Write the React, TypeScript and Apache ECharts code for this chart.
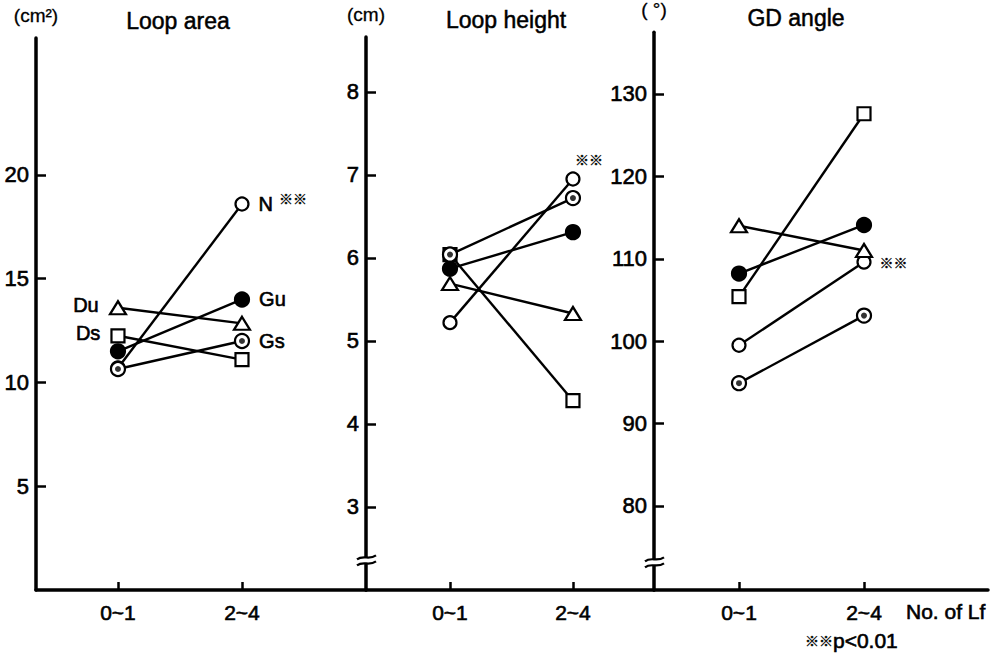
import React, { useEffect, useRef } from 'react';
import * as echarts from 'echarts';

// ---------- data ----------
const CATEGORIES = ['0~1', '2~4'];
const GROUPS = ['N', 'Ds', 'Du', 'Gu', 'Gs'];
const PANEL_TITLES = ['Loop area', 'Loop height', 'GD angle'];
const PANEL_UNITS = ['(cm²)', '(cm)', '( °)'];

const AREA_TICKS = [5, 10, 15, 20];
const HEIGHT_TICKS = [3, 4, 5, 6, 7, 8];
const ANGLE_TICKS = [80, 90, 100, 110, 120, 130];

// Loop area (cm²)
const AREA_N = [10.7, 18.6];
const AREA_GU = [11.5, 14.0];
const AREA_DU = [13.6, 12.85];
const AREA_DS = [12.25, 11.1];
const AREA_GS = [10.65, 12.0];

// Loop height (cm)
const HEIGHT_N = [5.22, 6.95];
const HEIGHT_GU = [5.87, 6.31];
const HEIGHT_DU = [5.69, 5.33];
const HEIGHT_DS = [6.04, 4.28];
const HEIGHT_GS = [6.04, 6.72];

// GD angle (°)
const ANGLE_N = [99.5, 109.6];
const ANGLE_GU = [108.2, 114.1];
const ANGLE_DU = [114.0, 111.0];
const ANGLE_DS = [105.4, 127.6];
const ANGLE_GS = [94.9, 103.1];

const AREA_LEFT_LABELS = ['Du', 'Ds'];
const AREA_RIGHT_LABELS = ['N', 'Gu', 'Gs'];
const SIGNIFICANT_GROUP = 'N';
const SIG_MARK = '※※';
const X_AXIS_NAME = 'No. of Lf';
const P_NOTE = 'p<0.01';

// ---------- layout ----------
const FONT = '"Liberation Sans", Arial, "Noto Sans CJK JP", sans-serif';
const SIG_FONT = '"Noto Sans CJK JP", "DejaVu Sans", sans-serif';
const THICK = { textBorderColor: '#000', textBorderWidth: 0.6 };
const GRID_X = [
  [36, 366],
  [366, 654],
  [654, 988],
];
const GRID_TOP = [38, 37, 28];
const GRID_BOTTOM_PX = 590;
const X_RANGE = [
  [-0.661, 2.0],
  [-0.683, 1.659],
  [-0.68, 1.992],
];
const Y_RANGE = [
  [0, 26.6],
  [2, 8.66],
  [69.8, 137.5],
];
const BREAK_AT: (number | null)[] = [null, 2.38, 73.4];

const PANEL_DATA: Record<string, number[]>[] = [
  { N: AREA_N, Gu: AREA_GU, Du: AREA_DU, Ds: AREA_DS, Gs: AREA_GS },
  { N: HEIGHT_N, Gu: HEIGHT_GU, Du: HEIGHT_DU, Ds: HEIGHT_DS, Gs: HEIGHT_GS },
  { N: ANGLE_N, Gu: ANGLE_GU, Du: ANGLE_DU, Ds: ANGLE_DS, Gs: ANGLE_GS },
];
const PANEL_TICKS = [AREA_TICKS, HEIGHT_TICKS, ANGLE_TICKS];

const MARKER: Record<string, any> = {
  N: { symbol: 'circle', symbolSize: 13, fill: '#fff' },
  Gu: { symbol: 'circle', symbolSize: 14, fill: '#000' },
  Du: { symbol: 'triangle', symbolSize: [16, 13], fill: '#fff' },
  Ds: { symbol: 'rect', symbolSize: 13, fill: '#fff' },
  Gs: { symbol: 'circle', symbolSize: 14, fill: '#fff' },
};

const SIG_STYLE = {
  fontSize: 14,
  fontFamily: SIG_FONT,
  fontWeight: 'bold',
  color: '#000',
  textBorderColor: '#000',
  textBorderWidth: 0.4,
};

function buildOption() {
  const H = 653;
  const grid = GRID_X.map((gx, p) => ({
    left: gx[0],
    width: gx[1] - gx[0],
    top: GRID_TOP[p],
    bottom: H - GRID_BOTTOM_PX,
  }));
  const xAxis = GRID_X.map((_, p) => ({
    type: 'value',
    gridIndex: p,
    min: X_RANGE[p][0],
    max: X_RANGE[p][1],
    splitLine: { show: false },
    axisLine: { show: true, onZero: false, lineStyle: { color: '#000', width: 3.5 } },
    axisTick: {
      show: true,
      inside: true,
      length: 8,
      customValues: [0, 1],
      lineStyle: { color: '#000', width: 2.5 },
    },
    axisLabel: {
      show: true,
      customValues: [0, 1],
      formatter: (v: number) => CATEGORIES[Math.round(v)] ?? '',
      color: '#000',
      fontSize: 21,
      fontFamily: FONT,
      margin: 12,
      ...THICK,
    },
  }));
  const yAxis = GRID_X.map((_, p) => ({
    type: 'value',
    gridIndex: p,
    position: 'left',
    min: Y_RANGE[p][0],
    max: Y_RANGE[p][1],
    name: PANEL_UNITS[p],
    nameLocation: 'end',
    nameGap: 13,
    nameTextStyle: { color: '#000', fontSize: 19, fontFamily: FONT, align: 'center', textBorderColor: '#000', textBorderWidth: 0.3 },
    splitLine: { show: false },
    axisLine: { show: true, onZero: false, lineStyle: { color: '#000', width: 3.5 } },
    axisTick: {
      show: true,
      inside: true,
      length: 10,
      customValues: PANEL_TICKS[p],
      lineStyle: { color: '#000', width: 2.5 },
    },
    axisLabel: {
      show: true,
      customValues: PANEL_TICKS[p],
      color: '#000',
      fontSize: 22,
      fontFamily: FONT,
      margin: 7,
      ...THICK,
    },
  }));

  const series: any[] = [];
  // lines
  PANEL_DATA.forEach((pd, p) => {
    GROUPS.forEach((g) => {
      series.push({
        type: 'line',
        name: `${g}-${p}-line`,
        xAxisIndex: p,
        yAxisIndex: p,
        data: pd[g].map((v, i) => [i, v]),
        symbol: 'none',
        lineStyle: { color: '#000', width: 2.4 },
        z: 2,
        silent: true,
      });
    });
  });
  // markers
  PANEL_DATA.forEach((pd, p) => {
    GROUPS.forEach((g) => {
      const m = MARKER[g];
      series.push({
        type: 'scatter',
        name: `${g}-${p}`,
        xAxisIndex: p,
        yAxisIndex: p,
        symbol: m.symbol,
        symbolSize: m.symbolSize,
        itemStyle: { color: m.fill, borderColor: '#000', borderWidth: 2.2, opacity: 1 },
        z: 3,
        data: pd[g].map((v, i) => {
          const item: any = { value: [i, v] };
          if (p === 0 && i === 0 && AREA_LEFT_LABELS.includes(g)) {
            item.label = {
              show: true,
              position: 'left',
              distance: 10,
              formatter: g,
              color: '#000',
              fontSize: 20,
              fontFamily: FONT,
              offset: [0, -3],
              ...THICK,
            };
          }
          if (p === 0 && i === 1 && AREA_RIGHT_LABELS.includes(g)) {
            const isSig = g === SIGNIFICANT_GROUP;
            item.label = {
              show: true,
              position: 'right',
              distance: 9,
              formatter: isSig ? `{n|${g}}{s|${SIG_MARK}}` : g,
              color: '#000',
              fontSize: 20,
              fontFamily: FONT,
              ...THICK,
              rich: {
                n: { fontSize: 20, fontFamily: FONT, color: '#000', ...THICK },
                s: { ...SIG_STYLE, padding: [0, 0, 12, 6] },
              },
            };
          }
          if (p === 1 && i === 1 && g === SIGNIFICANT_GROUP) {
            item.label = {
              show: true,
              position: 'top',
              distance: 5,
              offset: [16, 0],
              formatter: SIG_MARK,
              ...SIG_STYLE,
            };
          }
          if (p === 2 && i === 1 && g === SIGNIFICANT_GROUP) {
            item.label = {
              show: true,
              position: 'right',
              distance: 8,
              formatter: SIG_MARK,
              ...SIG_STYLE,
            };
          }
          return item;
        }),
      });
    });
    // bullseye centre dots for Gs
    series.push({
      type: 'scatter',
      name: `Gs-${p}-dot`,
      xAxisIndex: p,
      yAxisIndex: p,
      symbol: 'circle',
      symbolSize: 6,
      itemStyle: { color: '#000' },
      z: 4,
      silent: true,
      data: pd.Gs.map((v, i) => [i, v]),
    });
  });

  return { grid, xAxis, yAxis, series };
}

export default function App() {
  const ref = useRef<HTMLDivElement>(null);
  useEffect(() => {
    if (!ref.current) return;
    const chart = echarts.init(ref.current, null, { renderer: 'svg' });
    const { grid, xAxis, yAxis, series } = buildOption();
    const titleX = [178, 506, 796];
    const titleY = [21, 20, 18];
    const textEl = (text: string, x: number, y: number, size: number, align = 'center', rich?: any, stroke = 0.6) => ({
      type: 'text',
      x,
      y,
      z: 10,
      style: {
        text,
        fill: '#000',
        fontSize: size,
        fontFamily: FONT,
        align,
        verticalAlign: 'middle',
        textAlign: align,
        textVerticalAlign: 'middle',
        stroke: '#000',
        lineWidth: stroke,
        rich,
      },
    });
    const baseGraphics: any[] = [
      ...PANEL_TITLES.map((t, i) => textEl(t, titleX[i], titleY[i], 23, 'center', undefined, 0.5)),
      textEl(X_AXIS_NAME, 906, 611, 21, 'left'),
      textEl(`{s|${SIG_MARK}}{p|${P_NOTE}}`, 805, 640, 21, 'left', {
        s: { fontSize: 14, fontFamily: SIG_FONT, fontWeight: 'bold', fill: '#000', stroke: '#000', lineWidth: 0.4 },
        p: { fontSize: 21, fontFamily: FONT, fill: '#000', stroke: '#000', lineWidth: 0.6 },
      }),
    ];
    chart.setOption({
      animation: false,
      backgroundColor: '#fff',
      grid,
      xAxis,
      yAxis,
      series,
      graphic: baseGraphics,
    });
    // axis break marks
    const breakGraphics: any[] = [];
    BREAK_AT.forEach((bv, p) => {
      if (bv == null) return;
      const ax = chart.convertToPixel({ xAxisIndex: p } as any, X_RANGE[p][0]) as number;
      const by = chart.convertToPixel({ yAxisIndex: p } as any, bv) as number;
      breakGraphics.push({
        type: 'rect',
        shape: { x: ax - 3, y: by - 1, width: 6, height: 6 },
        style: { fill: '#fff' },
        z: 20,
      });
      [by - 1, by + 5].forEach((yy) => {
        breakGraphics.push({
          type: 'bezierCurve',
          shape: {
            x1: ax - 9,
            y1: yy + 2,
            cpx1: ax - 3,
            cpy1: yy - 3,
            cpx2: ax + 3,
            cpy2: yy + 3,
            x2: ax + 10,
            y2: yy - 2,
          },
          style: { stroke: '#000', lineWidth: 2.2, fill: null },
          z: 21,
        });
      });
    });
    chart.setOption({ graphic: [...baseGraphics, ...breakGraphics] });
    return () => chart.dispose();
  }, []);
  return (
    <div
      ref={ref}
      style={{ position: 'fixed', left: 0, top: 0, width: 993, height: 653, background: '#fff' }}
    />
  );
}
